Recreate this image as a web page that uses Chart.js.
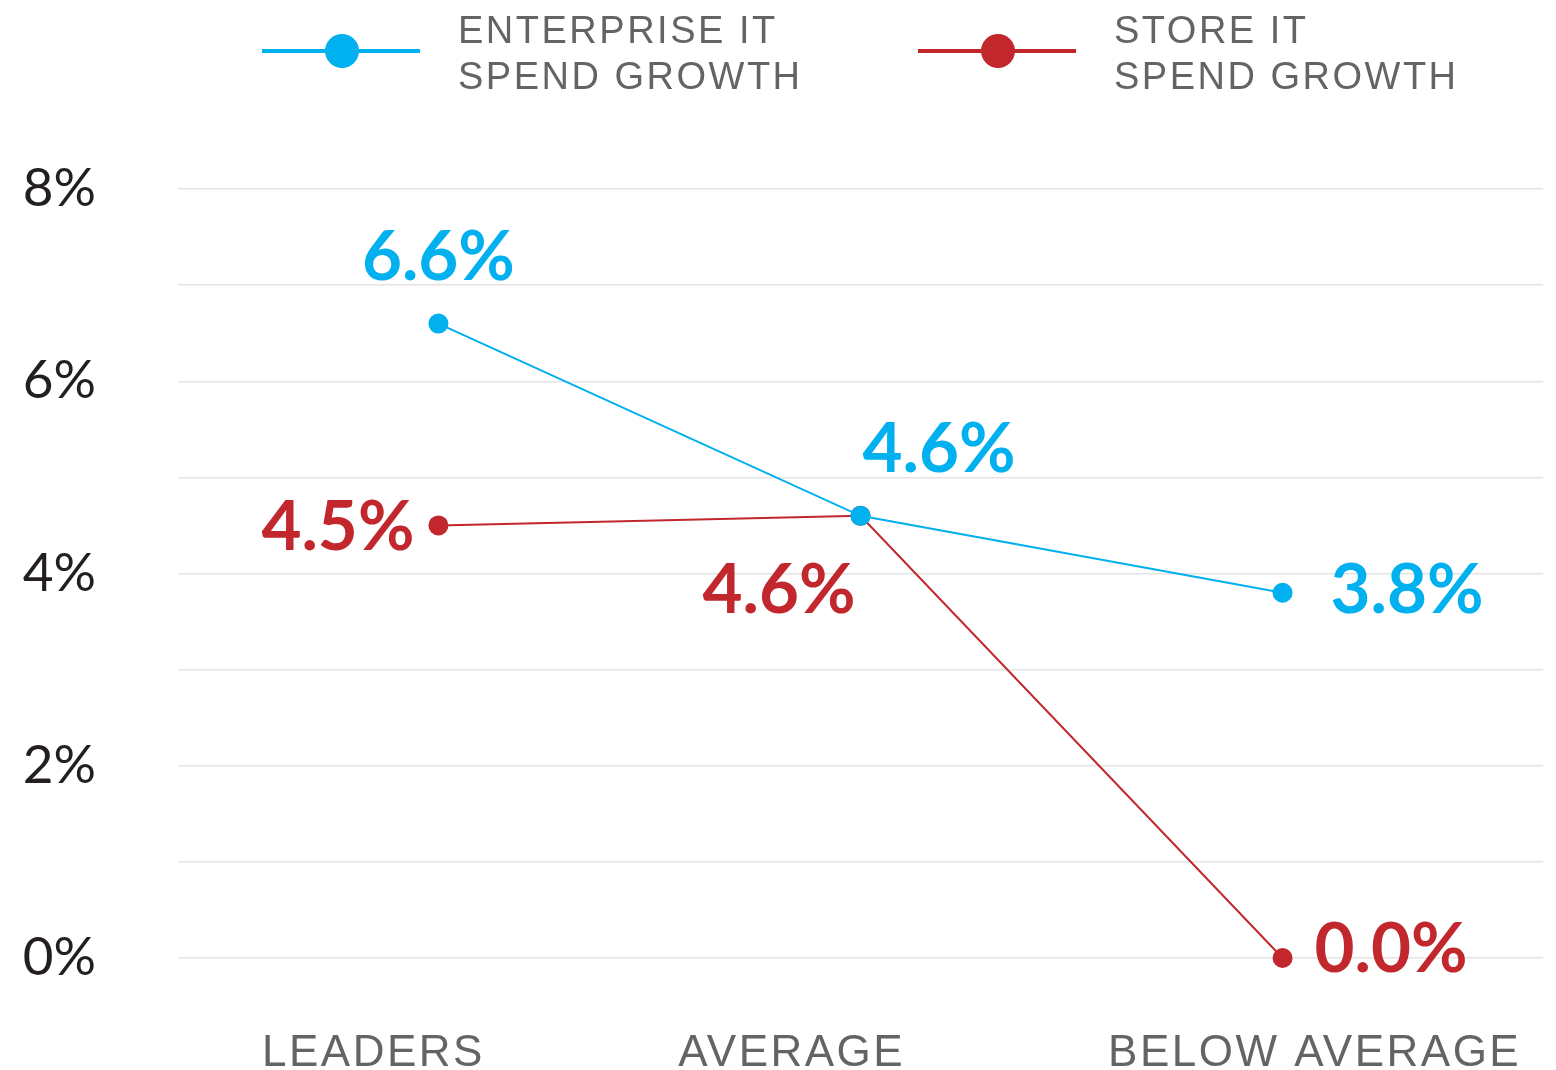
<!DOCTYPE html>
<html>
<head>
<meta charset="utf-8">
<script src="https://cdn.jsdelivr.net/npm/chart.js@4"></script>
<style>
  html, body { margin: 0; padding: 0; background: #fff; }
  #wrap { width: 1556px; height: 1070px; position: relative; }
</style>
</head>
<body>
<div id="wrap"><canvas id="itChart"></canvas></div>
<script>
/*====================================
        IT Spend Growth Chart
====================================*/

const categories = ["LEADERS", "AVERAGE", "BELOW AVERAGE"];
const enterpriseGrowth = [6.6, 4.6, 3.8];
const storeGrowth = [4.5, 4.6, 0.0];
const yTicks = [0, 2, 4, 6, 8];
const seriesNames = [["ENTERPRISE IT", "SPEND GROWTH"], ["STORE IT", "SPEND GROWTH"]];

const BLUE = "#00b0ef";
const RED = "#c1272d";

// label placement relative to each point: [dx, dy, align]
const labelPlacement = [
    [[0, -66, "center"], [2, -66, "left"], [48, -2, "left"]],
    [[-24, 2, "right"], [-5, 75, "right"], [32, -8, "left"]]
];

// category label shift in x-units
const categoryShift = [-0.154, -0.163, 0.076];

const legendX = [262, 918];

const overlayPlugin = {
    id: "overlay",
    afterDatasetsDraw(chart) {
        const ctx = chart.ctx;
        const xs = chart.scales.x;

        // value labels
        ctx.save();
        ctx.font = "bold 69px Lato";
        ctx.textBaseline = "middle";
        chart.data.datasets.forEach((ds, di) => {
            const meta = chart.getDatasetMeta(di);
            meta.data.forEach((pt, i) => {
                const p = labelPlacement[di][i];
                ctx.fillStyle = ds.borderColor;
                ctx.textAlign = p[2];
                ctx.fillText(ds.data[i].y.toFixed(1) + "%", pt.x + p[0], pt.y + p[1]);
            });
        });
        ctx.restore();

        // category labels
        ctx.save();
        ctx.font = "44px 'Liberation Sans'";
        ctx.letterSpacing = "2.5px";
        ctx.fillStyle = "#646464";
        ctx.textAlign = "center";
        ctx.textBaseline = "alphabetic";
        categories.forEach((c, i) => {
            ctx.fillText(c, xs.getPixelForValue(i + categoryShift[i]), 1066);
        });

        // legend
        ctx.font = "38px 'Liberation Sans'";
        ctx.textAlign = "left";
        chart.data.datasets.forEach((ds, di) => {
            const x = legendX[di];
            ctx.strokeStyle = ds.borderColor;
            ctx.lineWidth = 4;
            ctx.beginPath();
            ctx.moveTo(x, 51);
            ctx.lineTo(x + 158, 51);
            ctx.stroke();
            ctx.fillStyle = ds.borderColor;
            ctx.beginPath();
            ctx.arc(x + 80, 51, 17, 0, Math.PI * 2);
            ctx.fill();
            ctx.fillStyle = "#646464";
            seriesNames[di].forEach((line, li) => {
                ctx.fillText(line, x + 196, 43 + li * 46);
            });
        });
        ctx.restore();
    }
};

const toPoints = arr => arr.map((v, i) => ({ x: i, y: v }));

new Chart(document.getElementById("itChart"), {
    type: "line",
    data: {
        datasets: [{
            label: seriesNames[0].join(" "),
            data: toPoints(enterpriseGrowth),
            borderColor: BLUE,
            backgroundColor: BLUE,
            borderWidth: 2,
            pointRadius: 10,
            pointHoverRadius: 10,
            pointBorderWidth: 0,
            tension: 0,
            clip: false
        }, {
            label: seriesNames[1].join(" "),
            data: toPoints(storeGrowth),
            borderColor: RED,
            backgroundColor: RED,
            borderWidth: 2,
            pointRadius: 10,
            pointHoverRadius: 10,
            pointBorderWidth: 0,
            tension: 0,
            clip: false
        }]
    },
    options: {
        responsive: true,
        maintainAspectRatio: false,
        animation: false,
        layout: { padding: { top: 189, right: 13, bottom: 112, left: 0 } },
        plugins: {
            legend: { display: false },
            tooltip: { enabled: false }
        },
        scales: {
            x: {
                type: "linear",
                min: -0.617,
                max: 2.617,
                display: false
            },
            y: {
                min: 0,
                max: 8,
                afterFit(scale) {
                    scale.width = 178;
                    scale.paddingTop = 0;
                    scale.paddingBottom = 0;
                },
                afterBuildTicks(scale) {
                    scale.ticks = [];
                    for (let v = 0; v <= 8; v++) scale.ticks.push({ value: v });
                },
                border: { display: false },
                grid: {
                    color: "#e3e3e3",
                    lineWidth: 1.5,
                    drawTicks: false
                },
                ticks: {
                    padding: 82,
                    color: "#231f20",
                    font: { family: "Lato", size: 53, weight: "400" },
                    callback: v => yTicks.includes(v) ? v + "%" : ""
                }
            }
        }
    },
    plugins: [overlayPlugin]
});
</script>
</body>
</html>
